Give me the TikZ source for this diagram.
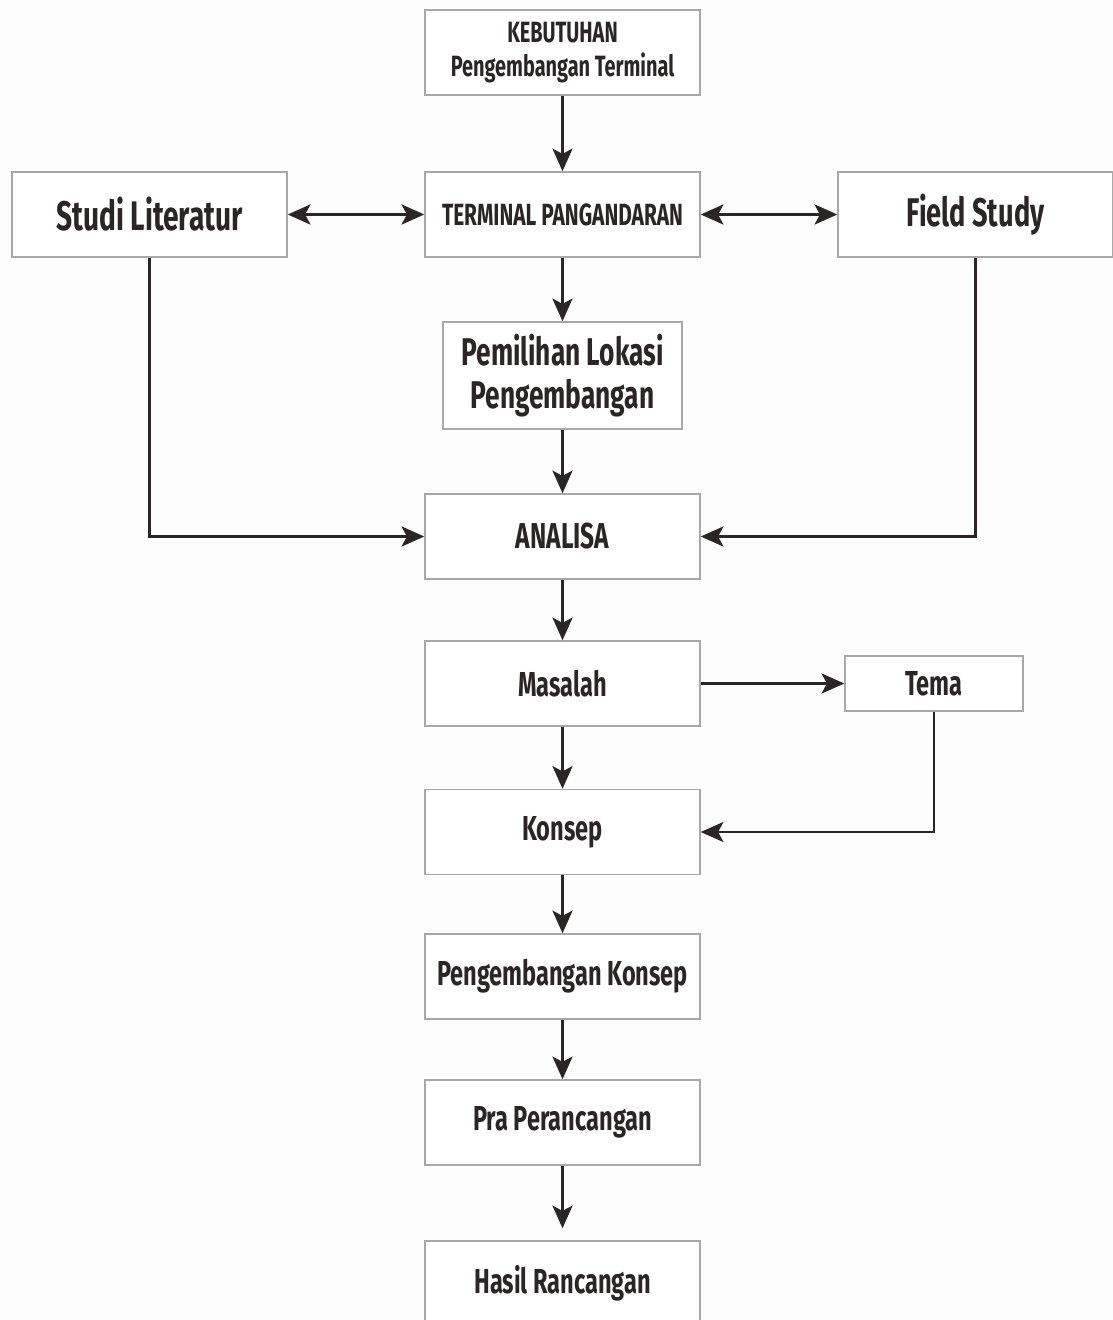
\documentclass[tikz,border=0pt]{standalone}
\usepackage{fontspec}
\newfontfamily\cond{Fira Sans}[FakeStretch=0.68]
\usetikzlibrary{arrows.meta}
\definecolor{ink}{HTML}{2B2525}
\definecolor{edge}{HTML}{A8A8A8}
\definecolor{bg}{HTML}{FDFDFD}
\begin{document}
\begin{tikzpicture}[x=0.75pt,y=-0.75pt,
  box/.style={draw=edge, line width=1.1pt, fill=white, text=ink, align=center,
    font=\cond\bfseries, inner sep=0pt},
  std/.style={box, minimum width=206.25pt, minimum height=63.75pt},
  conn/.style={draw=ink, line width=2.2pt, -{Stealth[length=17pt,width=15pt,inset=4pt]}},
  dconn/.style={draw=ink, line width=2.2pt, {Stealth[length=17pt,width=15pt,inset=4pt]}-{Stealth[length=17pt,width=15pt,inset=4pt]}}
]
\clip (0,0) rectangle (1113,1320);
\fill[bg] (0,0) rectangle (1113,1320);

\node[std, font=\cond\bfseries\fontsize{22}{26}\selectfont] (keb) at (562.5,52.5) {KEBUTUHAN\\Pengembangan Terminal};
\node[std, font=\cond\bfseries\fontsize{23}{28}\selectfont] (term) at (562.5,214.5) {TERMINAL PANGANDARAN};
\node[std, font=\cond\bfseries\fontsize{31}{38}\selectfont] (studi) at (149.5,214.5) {Studi Literatur};
\node[std, font=\cond\bfseries\fontsize{30}{38}\selectfont] (field) at (975.5,214.5) {Field Study};
\node[box, minimum width=179.25pt, minimum height=80.25pt, font=\cond\bfseries\fontsize{29}{32}\selectfont] (pem) at (562.5,375.5) {Pemilihan Lokasi\\Pengembangan};
\node[std, font=\cond\bfseries\fontsize{27}{32}\selectfont] (anal) at (562.5,536.5) {ANALISA};
\node[std, font=\cond\bfseries\fontsize{26}{32}\selectfont] (mas) at (562.5,683.5) {Masalah};
\node[box, minimum width=133.5pt, minimum height=41.25pt, font=\cond\bfseries\fontsize{26}{32}\selectfont] (tema) at (934,683.5) {Tema};
\node[std, font=\cond\bfseries\fontsize{26}{32}\selectfont] (kon) at (562.5,832) {Konsep};
\node[std, font=\cond\bfseries\fontsize{26}{32}\selectfont] (pk) at (562.5,976.5) {Pengembangan Konsep};
\node[std, font=\cond\bfseries\fontsize{26}{32}\selectfont] (pra) at (562.5,1122.5) {Pra Perancangan};
\node[std, font=\cond\bfseries\fontsize{26}{32}\selectfont] (hasil) at (562.5,1283.5) {Hasil Rancangan};

\draw[conn] (keb) -- (term);
\draw[dconn] (studi) -- (term);
\draw[dconn] (term) -- (field);
\draw[conn] (term) -- (pem);
\draw[conn] (pem) -- (anal);
\draw[conn] (studi.south) |- (anal.west);
\draw[conn] (field.south) |- (anal.east);
\draw[conn] (anal) -- (mas);
\draw[conn] (mas) -- (tema);
\draw[conn] (mas) -- (kon);
\draw[conn] (tema.south) |- (kon.east);
\draw[conn] (kon) -- (pk);
\draw[conn] (pk) -- (pra);
\draw[conn, shorten >=9pt] (pra) -- (hasil);
\end{tikzpicture}
\end{document}
